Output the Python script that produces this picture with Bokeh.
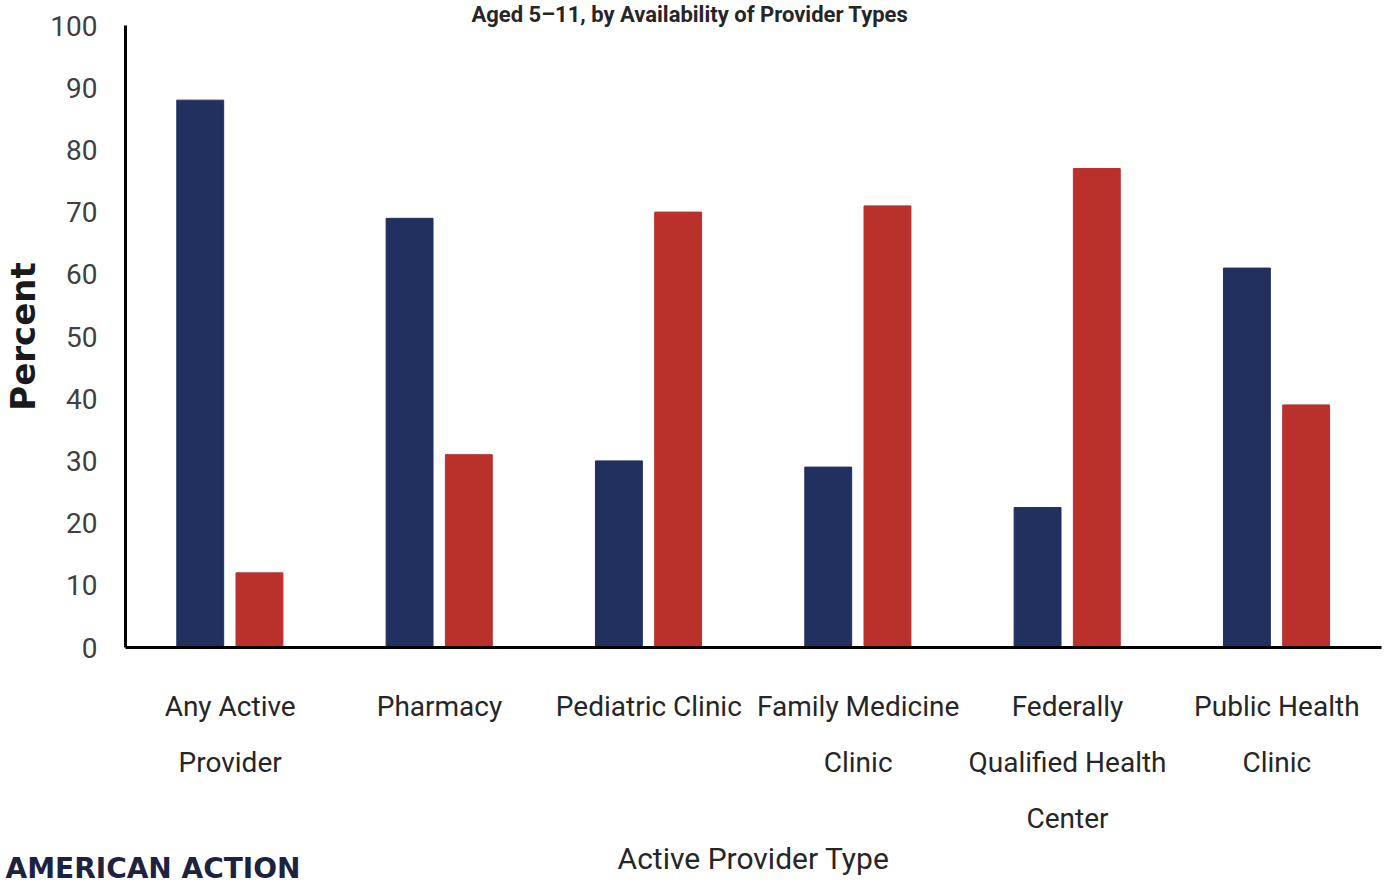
from bokeh.plotting import figure
from bokeh.models import FixedTicker, Range1d, Title
from bokeh.embed import file_html
from bokeh.resources import INLINE

categories = ["Any Active\nProvider", "Pharmacy", "Pediatric Clinic",
              "Family Medicine\nClinic", "Federally\nQualified Health\nCenter",
              "Public Health\nClinic"]
series_a = [88, 69, 30, 29, 22.5, 61]   # navy
series_b = [12, 31, 70, 71, 77, 39]     # red
y_ticks = [0, 10, 20, 30, 40, 50, 60, 70, 80, 90, 100]
title_text = "Aged 5\u201311, by Availability of Provider Types"
x_title = "Active Provider Type"
y_title = "Percent"
logo_text = "AMERICAN ACTION"

NAVY = "#21305F"
RED = "#BA302B"
FONT = "Roboto"

W, H = 1384, 886
FL, FT, FB = 124, 25, 647   # frame left/top/bottom in page pixels
p = figure(width=W, height=H, output_backend="svg", toolbar_location=None,
           x_range=Range1d(0.5, 6.5), y_range=Range1d(0, 100),
           min_border_left=FL, min_border_right=3, min_border_top=FT,
           min_border_bottom=H - FB)
p.outline_line_color = None
p.grid.visible = False

xs = list(range(1, len(categories) + 1))
p.vbar(x=[x - 0.143 for x in xs], top=series_a, width=0.224, color=NAVY)
p.vbar(x=[x + 0.14 for x in xs], top=series_b, width=0.224, color=RED)

# title (top)
p.title.text = title_text
p.title.text_font = FONT
p.title.text_font_style = "bold"
p.title.text_font_size = "22px"
p.title.text_color = "#262626"
p.title.align = "left"
p.title.offset = 470 - FL
p.title.standoff = -4
p.title.vertical_align = "middle"

# y axis
ya = p.yaxis[0]
ya.ticker = FixedTicker(ticks=y_ticks)
ya.major_tick_line_color = None
ya.minor_tick_line_color = None
ya.axis_line_width = 3
ya.axis_line_color = "black"
ya.major_label_text_font = FONT
ya.major_label_text_font_size = "28px"
ya.major_label_text_color = "#404040"
ya.major_label_standoff = 22
ya.axis_label = y_title
ya.axis_label_text_font = "DejaVu Sans"
ya.axis_label_text_font_style = "bold"
ya.axis_label_text_font_size = "34px"
ya.axis_label_text_color = "#1a1a1a"
ya.axis_label_standoff = 4

# x axis
xa = p.xaxis[0]
xa.ticker = FixedTicker(ticks=xs)
xa.major_label_overrides = {x: c for x, c in zip(xs, categories)}
xa.major_tick_line_color = None
xa.minor_tick_line_color = None
xa.axis_line_width = 3
xa.axis_line_color = "black"
xa.major_label_text_font = FONT
xa.major_label_text_font_size = "28px"
xa.major_label_text_color = "#262626"
xa.major_label_text_line_height = 1.7
xa.major_label_standoff = 36
xa.axis_label = x_title
xa.axis_label_text_font = FONT
xa.axis_label_text_font_style = "normal"
xa.axis_label_text_font_size = "30px"
xa.axis_label_text_color = "#262626"
xa.axis_label_standoff = 3

# logo text (bottom left), placed in the panel below the x axis
logo = Title(text=logo_text, align="left", offset=4 - FL, standoff=-54,
             vertical_align="top", text_font="DejaVu Sans", text_font_style="bold",
             text_font_size="28px", text_color="#1c2340")
p.add_layout(logo, "below")

open("out.html", "w").write(file_html(p, INLINE))
